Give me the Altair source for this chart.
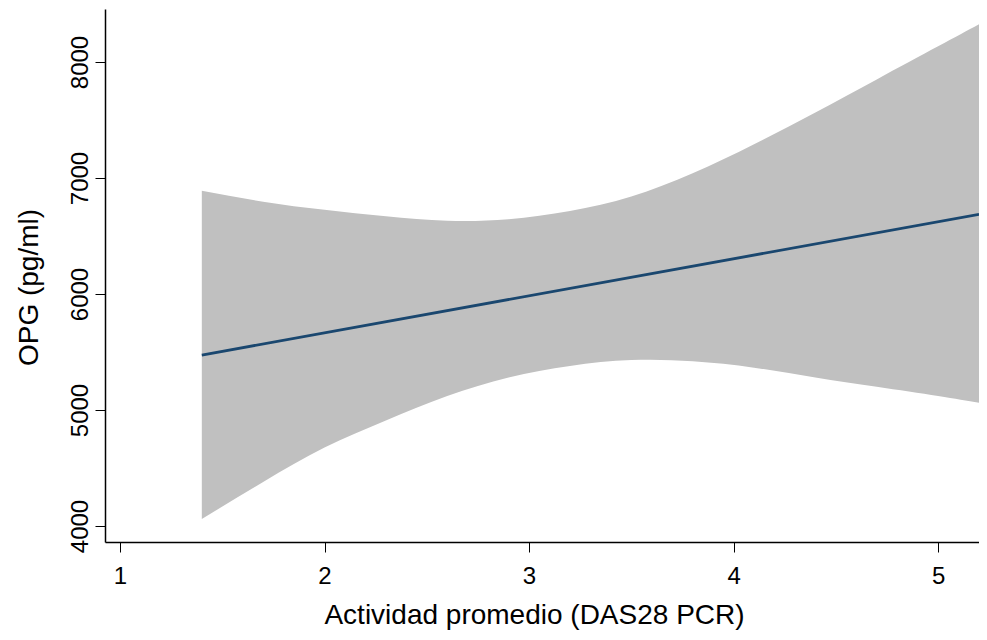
import altair as alt
import pandas as pd

# CI band
band_x = [1.40, 1.70, 2.00, 2.30, 2.60, 2.90, 3.20, 3.50, 3.80, 4.10, 4.40, 4.70, 5.00, 5.20]
band_upper = [6890, 6796, 6726, 6670, 6632, 6645, 6715, 6840, 7040, 7290, 7565, 7850, 8135, 8325]
band_lower = [4060, 4380, 4676, 4910, 5120, 5280, 5380, 5430, 5420, 5365, 5280, 5200, 5120, 5062]

# fitted line
fit_x = [1.40, 5.20]
fit_y = [5474, 6687]

x_ticks = [1, 2, 3, 4, 5]
y_ticks = [4000, 5000, 6000, 7000, 8000]

band_df = pd.DataFrame({"x": band_x, "lo": band_lower, "hi": band_upper})
fit_df = pd.DataFrame({"x": fit_x, "y": fit_y})

FONT = "Liberation Sans"
LABEL_SIZE = 24
TITLE_SIZE = 28

xscale = alt.Scale(domain=[0.9267, 5.2], nice=False, zero=False)
yscale = alt.Scale(domain=[3862, 8457], nice=False, zero=False)

def make_xaxis():
    return alt.Axis(
        values=x_ticks, format="d", grid=False,
        title="Actividad promedio (DAS28 PCR)",
        labelFont=FONT, labelFontSize=LABEL_SIZE, labelColor="black",
        labelBaseline="alphabetic", labelPadding=31,
        tickSize=10, tickColor="black", tickWidth=1,
        domainColor="black", domainWidth=1.5,
        titleFont=FONT, titleFontSize=TITLE_SIZE, titleFontWeight="normal", titleColor="black",
        titleX=429, titleY=81, titleBaseline="alphabetic", titleAlign="center",
    )

def make_yaxis():
    return alt.Axis(
        values=y_ticks, format="d", grid=False,
        title="OPG (pg/ml)",
        labelFont=FONT, labelFontSize=LABEL_SIZE, labelColor="black",
        labelAngle=270, labelAlign="center", labelBaseline="alphabetic", labelPadding=8,
        tickSize=10, tickColor="black", tickWidth=1,
        domainColor="black", domainWidth=1.5,
        titleFont=FONT, titleFontSize=TITLE_SIZE, titleFontWeight="normal", titleColor="black",
        titleAngle=270, titleX=-68, titleY=278, titleBaseline="alphabetic", titleAlign="center",
    )

band = alt.Chart(band_df).mark_area(color="#c0c0c0", opacity=1, interpolate="natural", clip=True).encode(
    x=alt.X("x:Q", scale=xscale, axis=make_xaxis()),
    y=alt.Y("hi:Q", scale=yscale, axis=make_yaxis()),
    y2="lo:Q",
)

line = alt.Chart(fit_df).mark_line(color="#1a476f", strokeWidth=2.8, clip=True).encode(
    x=alt.X("x:Q", scale=xscale, axis=make_xaxis()),
    y=alt.Y("y:Q", scale=yscale, axis=make_yaxis()),
)

chart = (band + line).properties(
    width=874, height=533,
    autosize=alt.AutoSizeParams(type="none"),
    padding={"left": 97, "top": 1, "right": 0, "bottom": 90},
    background="white",
).configure_view(stroke=None).configure_axis(
    labelFontSize=LABEL_SIZE, labelFont=FONT, titleFontSize=TITLE_SIZE, titleFont=FONT
)

chart.save("out.html", embed_options={"renderer": "svg", "actions": False})
